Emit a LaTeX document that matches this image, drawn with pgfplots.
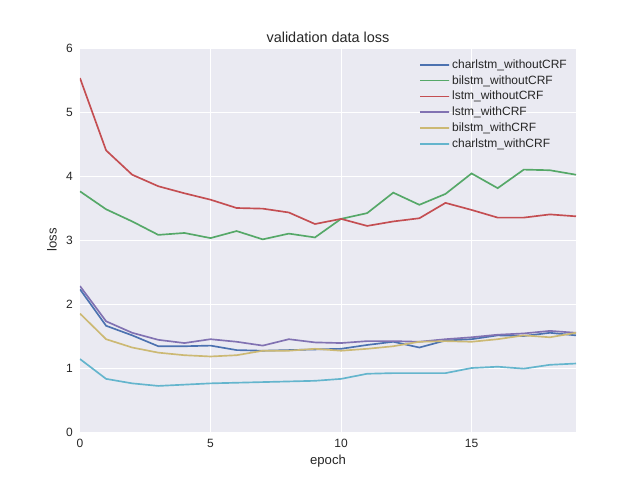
\documentclass[border=0pt]{standalone}
\usepackage{fontspec}
\setmainfont{Liberation Sans}
\usepackage{pgfplots}
\pgfplotsset{compat=1.18}
\definecolor{sbblue}{HTML}{4C72B0}
\definecolor{sbgreen}{HTML}{55A868}
\definecolor{sbred}{HTML}{C44E52}
\definecolor{sbpurple}{HTML}{8172B2}
\definecolor{sbyellow}{HTML}{CCB974}
\definecolor{sbcyan}{HTML}{64B5CD}
\definecolor{sbbg}{HTML}{EAEAF2}
\definecolor{sbtext}{HTML}{262626}
\tikzset{ln/.style={line width=1.5pt}}
\begin{document}
\begin{tikzpicture}
\path[use as bounding box] (-72pt,-43.2pt) rectangle (504pt,388.8pt);
\begin{axis}[
  at={(0,0)}, anchor=south west,
  scale only axis,
  width=446.4pt, height=345.6pt,
  xmin=0, xmax=19, ymin=0, ymax=6,
  xtick={0,5,10,15}, ytick={0,1,2,3,4,5,6},
  axis background/.style={fill=sbbg},
  axis line style={draw=none},
  major tick length=0pt,
  grid=major,
  major grid style={white, line width=0.9pt},
  tick label style={font=\fontsize{10.8}{13}\selectfont, text=sbtext},
  /pgf/number format/assume math mode=true,
  xticklabel style={yshift=-3pt},
  yticklabel style={xshift=-3pt},
  label style={font=\fontsize{11.8}{14}\selectfont, text=sbtext},
  xlabel={epoch}, ylabel={loss},
  xlabel style={yshift=0pt},
  ylabel style={yshift=1.5pt},
  title={validation data loss},
  title style={font=\fontsize{13}{15}\selectfont, text=sbtext, yshift=-5pt},
  no markers,
  legend cell align=left,
  legend style={draw=none, fill=none, at={(0.677,0.982)}, anchor=north west,
    font=\fontsize{10.8}{13}\selectfont, text=sbtext,
    row sep=0.9pt},
  legend image code/.code={%
    \path[use as bounding box] (0pt,0pt) rectangle (26pt,0pt);
    \draw[#1, line width=1.5pt] (0pt,0pt) -- (23.4pt,0pt);},
]
\addplot[sbblue, ln] coordinates {
(0,2.23)(1,1.66)(2,1.51)(3,1.34)(4,1.34)(5,1.35)(6,1.28)(7,1.27)(8,1.28)(9,1.29)
(10,1.30)(11,1.36)(12,1.41)(13,1.32)(14,1.43)(15,1.45)(16,1.51)(17,1.50)(18,1.55)(19,1.51)};
\addplot[sbgreen, ln] coordinates {
(0,3.76)(1,3.48)(2,3.29)(3,3.08)(4,3.11)(5,3.03)(6,3.14)(7,3.01)(8,3.10)(9,3.04)
(10,3.33)(11,3.42)(12,3.74)(13,3.55)(14,3.72)(15,4.04)(16,3.81)(17,4.10)(18,4.09)(19,4.02)};
\addplot[sbred, ln] coordinates {
(0,5.53)(1,4.40)(2,4.02)(3,3.84)(4,3.73)(5,3.63)(6,3.50)(7,3.49)(8,3.43)(9,3.25)
(10,3.33)(11,3.22)(12,3.29)(13,3.34)(14,3.58)(15,3.47)(16,3.35)(17,3.35)(18,3.40)(19,3.37)};
\addplot[sbpurple, ln] coordinates {
(0,2.28)(1,1.73)(2,1.55)(3,1.44)(4,1.39)(5,1.45)(6,1.41)(7,1.35)(8,1.45)(9,1.40)
(10,1.39)(11,1.42)(12,1.42)(13,1.41)(14,1.45)(15,1.48)(16,1.52)(17,1.54)(18,1.58)(19,1.55)};
\addplot[sbyellow, ln] coordinates {
(0,1.85)(1,1.45)(2,1.32)(3,1.24)(4,1.20)(5,1.18)(6,1.20)(7,1.27)(8,1.27)(9,1.30)
(10,1.27)(11,1.30)(12,1.34)(13,1.41)(14,1.42)(15,1.41)(16,1.45)(17,1.51)(18,1.48)(19,1.55)};
\addplot[sbcyan, ln] coordinates {
(0,1.14)(1,0.83)(2,0.76)(3,0.72)(4,0.74)(5,0.76)(6,0.77)(7,0.78)(8,0.79)(9,0.80)
(10,0.83)(11,0.91)(12,0.92)(13,0.92)(14,0.92)(15,1.00)(16,1.02)(17,0.99)(18,1.05)(19,1.07)};
\legend{charlstm\_withoutCRF,bilstm\_withoutCRF,lstm\_withoutCRF,lstm\_withCRF,bilstm\_withCRF,charlstm\_withCRF}
\end{axis}
\end{tikzpicture}
\end{document}
